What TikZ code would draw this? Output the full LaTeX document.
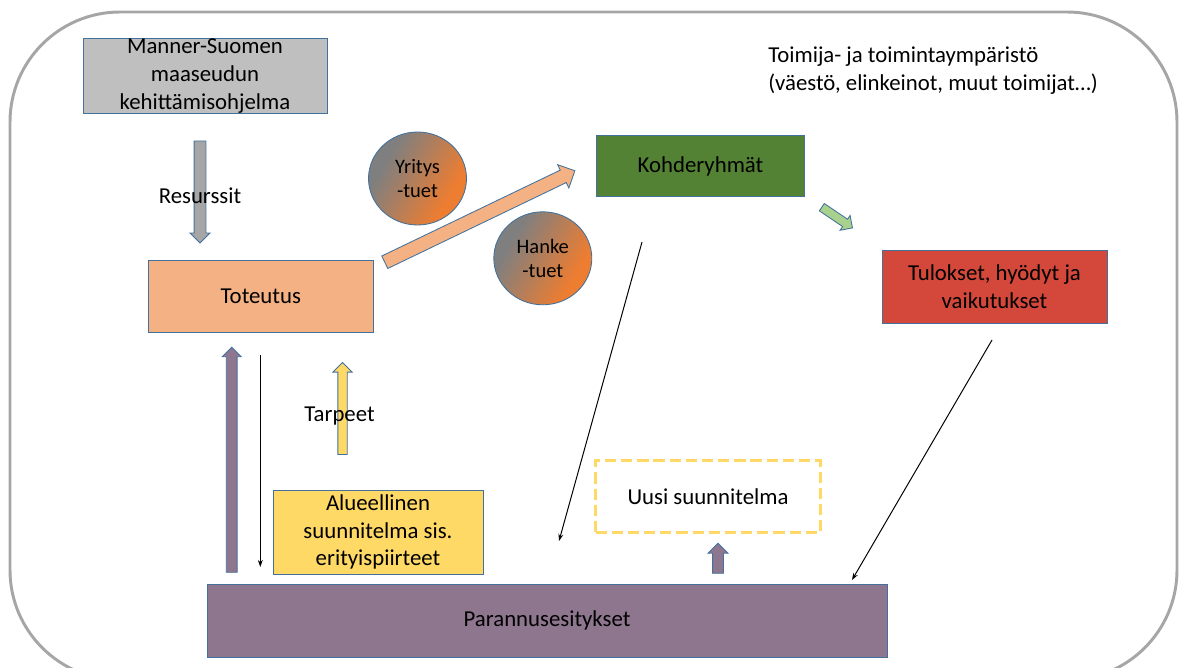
\documentclass[tikz,border=0pt]{standalone}
\usepackage{fontspec}
\setmainfont{Carlito}
\usetikzlibrary{shapes.geometric,shapes.arrows,arrows.meta}
\definecolor{edgeblue}{RGB}{65,113,156}
\definecolor{framegray}{RGB}{166,166,166}
\definecolor{boxgray}{RGB}{191,191,191}
\definecolor{arrowgray}{RGB}{166,166,166}
\definecolor{peach}{RGB}{244,177,131}
\definecolor{leafgreen}{RGB}{84,130,53}
\definecolor{lightgreen}{RGB}{169,209,142}
\definecolor{brickred}{RGB}{211,72,58}
\definecolor{sunyellow}{RGB}{255,217,102}
\definecolor{mauve}{RGB}{143,118,143}
\definecolor{slategray}{RGB}{127,127,127}
\definecolor{burntorange}{RGB}{237,125,49}
\pgfdeclareverticalshading{tukishade}{100bp}{color(0bp)=(burntorange); color(31bp)=(burntorange); color(69bp)=(slategray); color(100bp)=(slategray)}
\newcommand{\labelsize}{\fontsize{16.2}{19.8}\selectfont}
\newcommand{\bubblesize}{\fontsize{14.6}{17}\selectfont}

\begin{document}
\begin{tikzpicture}[x=0.025cm, y=-0.025cm]

		\tikzset{
		    box/.style={draw=edgeblue, line width=0.6pt, inner sep=0pt, align=center, font=\labelsize},
		    boxsize/.style 2 args={minimum width=#1*0.025cm, minimum height=#2*0.025cm},
		    bubble/.style={ellipse, draw=edgeblue, line width=0.6pt, inner sep=0pt,
		        minimum width=98*0.025cm, minimum height=93*0.025cm,
		        shading=tukishade, shading angle=60,
		        align=center, font=\bubblesize},
		    blockarrow/.style={single arrow, draw=edgeblue, line width=0.6pt, inner sep=0pt, single arrow tip angle=90},
		    arrowsize/.style n args={3}{minimum height=#1*0.025cm, inner ysep=#2*0.0125cm, single arrow head extend=#3*0.0125cm},
		    thinarrow/.style={-{Stealth[length=5pt,width=3.5pt]}, line width=0.7pt},
		    plain/.style={font=\labelsize, inner sep=0pt}
		}

		\useasboundingbox (0,0) rectangle (1187,668);

		% outer frame

		\begin{scope}
			\clip (0,0) rectangle (1187,668);
			\draw[framegray, line width=2.1pt, rounded corners=2.75cm] (10,12) rectangle (1177,680);
		\end{scope}

		% boxes

		\node[box, boxsize={244}{75}, fill=boxgray] (ohjelma) at (205,76) {Manner-Suomen\\maaseudun\\kehittämisohjelma};
		\node[box, boxsize={225}{72}, fill=peach] (toteutus) at (260.8,296.5) {Toteutus};
		\node[box, boxsize={208}{61}, fill=leafgreen] (kohde) at (700.5,166.3) {Kohderyhmät};
		\node[box, boxsize={225}{73}, fill=brickred] (tulokset) at (994.5,286.5) {Tulokset, hyödyt ja\\vaikutukset};
		\node[box, boxsize={210}{84}, fill=sunyellow] (alue) at (378,532) {Alueellinen\\suunnitelma sis.\\erityispiirteet};
		\node[box, boxsize={225}{72}, draw=sunyellow, line width=2.1pt, dash pattern=on 8pt off 3.5pt] (uusi) at (708,496.7) {Uusi suunnitelma};
		\node[box, boxsize={680}{73.5}, fill=mauve] (paran) at (547,620.8) {Parannusesitykset};

		% support circles

		\node[bubble] (yritys) at (417.5,178.5) {Yritys\\-tuet};
		\node[bubble] (hanke) at (542.8,258.3) {Hanke\\-tuet};

		% block arrows and their labels

		\node[blockarrow, fill=arrowgray, arrowsize={102}{11}{8}, rotate=-90] (resnuoli) at (200,189) {};
		\node[plain] (resurssit) at (200,196) {Resurssit};

		\node[blockarrow, fill=peach, arrowsize={211}{13}{12}, rotate=25.7] (tukinuoli) at (476.7,218) {};
		\node[blockarrow, fill=lightgreen, arrowsize={37}{8}{9}, rotate=-34] (tulosnuoli) at (835.3,216.3) {};
		\node[blockarrow, fill=mauve, arrowsize={225}{10}{8}, rotate=90] (palautenuoli) at (231.7,462.5) {};

		\node[blockarrow, fill=sunyellow, arrowsize={92}{8.5}{10}, rotate=90] (tarvenuoli) at (342.5,410.8) {};
		\node[plain] (tarpeet) at (339.5,416) {Tarpeet};

		\node[blockarrow, fill=mauve, arrowsize={30}{10}{9}, rotate=90] (uusinuoli) at (718,561) {};

		% thin arrows

		\coordinate (kohdejalka) at (642,242);
		\coordinate (paranvasen) at (559,541);
		\coordinate (tulosjalka) at (992,340);
		\coordinate (paranoikea) at (852,580);
		\coordinate (totjalka) at (260.3,355);
		\coordinate (aluepohja) at (260.3,567);

		\draw[thinarrow] (kohdejalka) -- (paranvasen);
		\draw[thinarrow] (tulosjalka) -- (paranoikea);
		\draw[thinarrow] (totjalka) -- (aluepohja);

		% environment text

		\node[plain, anchor=west, align=left] (ymparisto) at (768,71) {Toimija- ja toimintaympäristö\\(väestö, elinkeinot, muut toimijat…)};

		\end{tikzpicture}
\end{document}
